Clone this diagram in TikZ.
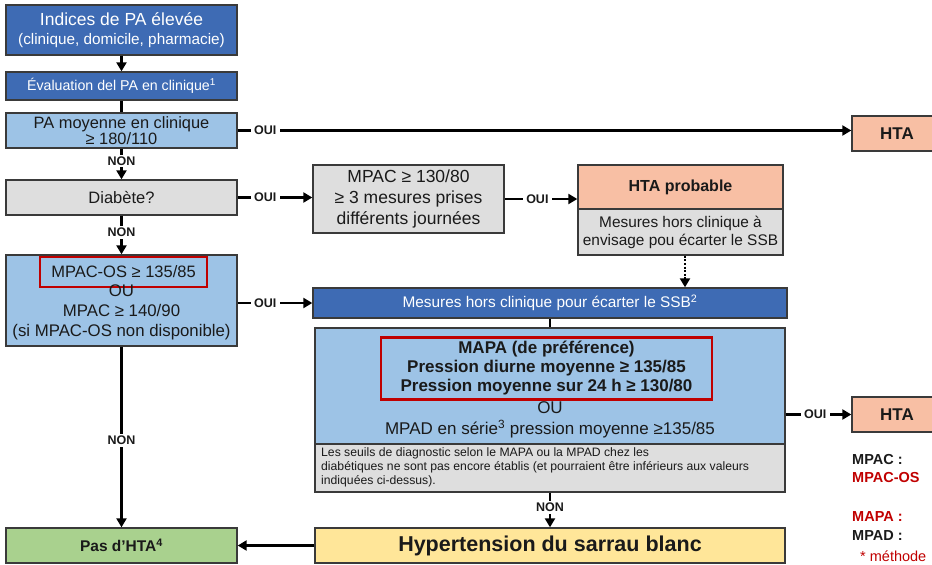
\documentclass[tikz,border=0pt]{standalone}
\usepackage{fontspec}
\setmainfont{Liberation Sans}
\usetikzlibrary{arrows.meta,calc}
\definecolor{darkblue}{HTML}{3E6BB4}
\definecolor{lightblue}{HTML}{9DC3E6}
\definecolor{greybox}{HTML}{DEDEDE}
\definecolor{salmon}{HTML}{F8BFA4}
\definecolor{greenbox}{HTML}{A9D18E}
\definecolor{yellowbox}{HTML}{FFE699}
\definecolor{redmark}{HTML}{C00000}
\definecolor{edge}{HTML}{3A3A3A}
\definecolor{ink}{HTML}{1A1A1A}
\newcommand{\fsl}[2]{\fontsize{#1}{#2}\selectfont}

\begin{document}
\begin{tikzpicture}[x=1pt,y=-1pt,
  box/.style={draw=edge, line width=1.4pt, inner sep=0pt, align=center, text=ink},
  bluebox/.style={box, fill=darkblue, text=white},
  paleblue/.style={box, fill=lightblue},
  greyb/.style={box, fill=greybox},
  salmonb/.style={box, fill=salmon},
  conn/.style={line width=2.6pt, draw=black, -{Triangle[length=9pt,width=10pt]}},
  plainline/.style={line width=2.6pt, draw=black},
  lbl/.style={fill=white, inner xsep=3.5pt, inner ysep=2pt, text=ink, font=\fsl{12.5}{13}\bfseries},
  redframe/.style={draw=redmark, line width=2.8pt, inner sep=0pt, align=center, text=ink},
  sidenote/.style={anchor=west, inner sep=0pt, font=\fsl{14.5}{16}\bfseries}
]
\useasboundingbox (0,0) rectangle (932,565);

% left column
\node[bluebox, minimum width=231, minimum height=50, font=\fsl{17.5}{19.5}] (start) at (121.5,30)
  {Indices de PA élevée\\{\fsl{15.3}{19.5}(clinique, domicile, pharmacie)}};
\node[bluebox, minimum width=231, minimum height=28, font=\fsl{14.2}{16}] (eval) at (121.5,86)
  {Évaluation del PA en clinique\textsuperscript{1}};
\node[paleblue, minimum width=231, minimum height=35, font=\fsl{16.4}{16.5}] (pa) at (121.5,130.5)
  {PA moyenne en clinique\\≥ 180/110};
\node[greyb, minimum width=231, minimum height=35, font=\fsl{16.5}{18}] (diab) at (121.5,197.5)
  {Diabète?};
\node[paleblue, minimum width=231, minimum height=91] (mpacos) at (121.5,300.5) {};
\node[redframe, minimum width=167, minimum height=30, font=\fsl{16.5}{18}] (osmark) at (123.5,272)
  {MPAC-OS ≥ 135/85};
\node[inner sep=0pt, align=center, text=ink, font=\fsl{16.8}{20}] (mpactext) at (121.5,312)
  {OU\\MPAC ≥ 140/90\\(si MPAC-OS non disponible)};
\node[box, fill=greenbox, minimum width=231, minimum height=35, font=\fsl{15.5}{17}\bfseries] (nohta) at (121.5,545.5)
  {Pas d’HTA\textsuperscript{4}};

% top right
\node[salmonb, minimum width=90, minimum height=35, font=\fsl{17}{18}\bfseries] (hta1) at (897,133.5) {HTA};

% middle row
\node[greyb, minimum width=191, minimum height=68, font=\fsl{17.5}{21}] (mpac130) at (408.5,199)
  {MPAC ≥ 130/80\\≥ 3 mesures prises\\différents journées};
\node[salmonb, minimum width=205, minimum height=44, font=\fsl{16}{18}\bfseries] (prob) at (680.5,187)
  {HTA probable};
\node[greyb, minimum width=205, minimum height=46, font=\fsl{15.4}{18}] (probnote) at (680.5,232)
  {Mesures hors clinique à\\envisage pou écarter le SSB};

\node[bluebox, minimum width=474, minimum height=30, font=\fsl{15.4}{17}] (ssb) at (550,303)
  {Mesures hors clinique pour écarter le SSB\textsuperscript{2}};

% ambulatory criteria
\node[paleblue, minimum width=470, minimum height=116] (amb) at (550,386) {};
\node[box, fill=greybox, minimum width=470, minimum height=48] (ambnote) at (550,468) {};
\node[anchor=north west, inner sep=0pt, align=left, text=ink, font=\fsl{12.2}{14}] (ambnotetext) at (321,447.5)
  {Les seuils de diagnostic selon le MAPA ou la MPAD chez les\\
   diabétiques ne sont pas encore établis (et pourraient être inférieurs aux valeurs\\
   indiquées ci-dessus).};
\node[redframe, minimum width=331, minimum height=62, font=\fsl{17}{19}\bfseries] (mapamark) at (546.5,368.5)
  {MAPA (de préférence)\\Pression diurne moyenne ≥ 135/85\\Pression moyenne sur 24 h ≥ 130/80};
\node[inner sep=0pt, align=center, text=ink, font=\fsl{17}{21}] (mpadtext) at (550,420)
  {OU\\MPAD en série\textsuperscript{3} pression moyenne ≥135/85};

\node[salmonb, minimum width=90, minimum height=35, font=\fsl{17}{18}\bfseries] (hta2) at (897,414.5) {HTA};

\node[box, fill=yellowbox, minimum width=470, minimum height=35, font=\fsl{21.5}{23}\bfseries] (sarrau) at (550,545.5)
  {Hypertension du sarrau blanc};

% side legend
\node[sidenote, text=ink] (lgmpac) at (852,460) {MPAC :};
\node[sidenote, text=redmark] (lgmpacos) at (852,478) {MPAC-OS};
\node[sidenote, text=redmark] (lgmapa) at (852,517) {MAPA :};
\node[sidenote, text=ink] (lgmpad) at (852,536) {MPAD :};
\node[anchor=west, inner sep=0pt, text=redmark, font=\fsl{14.5}{16}] (lgstar) at (860,556) {* méthode};

% connectors
\draw[conn] (start) -- (eval);
\draw[plainline] (eval) -- (pa);
\draw[conn] (pa.east) -- node[lbl, pos=0.045] {OUI} (pa.east -| hta1.west);
\draw[conn] (pa) -- node[lbl, pos=0.4] {NON} (diab);
\draw[conn] (diab.east) -- node[lbl, pos=0.37] {OUI} (diab.east -| mpac130.west);
\draw[conn] (mpac130.east) -- node[lbl, pos=0.45] {OUI} (mpac130.east -| prob.west);
\draw[conn] (diab) -- node[lbl, pos=0.43] {NON} (mpacos);
\coordinate (dotstart) at ($(probnote.south)+(4.5,0)$);
\draw[conn, dash pattern=on 2pt off 1.6pt] (dotstart) -- (dotstart |- ssb.north);
\draw[conn] (mpacos.east |- ssb) -- node[lbl, pos=0.37] {OUI} (ssb.west);
\draw[plainline] (ssb) -- (amb);
\draw[conn] (amb.east |- hta2) -- node[lbl, pos=0.45] {OUI} (hta2.west);
\draw[conn] (mpacos) -- node[lbl, pos=0.52] {NON} (nohta);
\draw[conn] (ambnote) -- node[lbl, pos=0.42] {NON} (sarrau);
\draw[conn] (sarrau) -- (nohta);
\end{tikzpicture}
\end{document}
